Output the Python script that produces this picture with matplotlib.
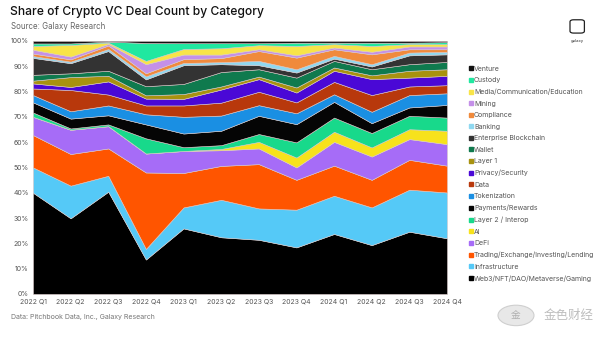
import matplotlib.pyplot as plt
from matplotlib.lines import Line2D
from matplotlib.patches import FancyBboxPatch, Circle

plt.rcParams['font.family'] = ['Inter', 'DejaVu Sans']

quarters = ['2022 Q1', '2022 Q2', '2022 Q3', '2022 Q4', '2023 Q1', '2023 Q2',
            '2023 Q3', '2023 Q4', '2024 Q1', '2024 Q2', '2024 Q3', '2024 Q4']

# shares in %, bottom of the stack first
web3 = [40.0, 29.9, 40.4, 13.6, 25.9, 22.4, 21.4, 18.4, 23.7, 19.3, 24.6, 22.0]
infra = [10.0, 12.9, 6.3, 4.2, 8.3, 14.8, 12.4, 14.9, 15.1, 14.9, 16.6, 18.1]
trading = [12.8, 12.5, 10.8, 30.2, 13.6, 13.4, 17.5, 11.8, 11.9, 10.9, 11.8, 10.6]
defi = [7.2, 9.6, 8.8, 7.5, 8.7, 6.2, 6.2, 4.9, 9.4, 9.2, 8.2, 8.5]
ai = [0.0, 0.0, 0.0, 0.0, 0.0, 0.5, 2.6, 3.9, 4.0, 3.6, 3.9, 5.3]
layer2 = [1.7, 0.5, 0.7, 6.0, 1.5, 1.5, 3.1, 6.0, 5.6, 5.7, 5.3, 5.2]
payments = [4.0, 3.9, 3.6, 5.5, 5.4, 5.7, 7.2, 7.2, 6.2, 3.9, 3.3, 5.0]
tokenization = [2.9, 2.9, 3.9, 4.0, 6.6, 6.0, 4.2, 4.3, 3.0, 4.5, 4.9, 4.6]
data = [2.6, 8.4, 4.3, 3.5, 4.5, 5.1, 5.3, 4.3, 4.9, 6.6, 3.4, 3.2]
privacy = [2.0, 1.2, 5.2, 2.7, 2.6, 5.2, 5.0, 3.9, 4.4, 6.3, 3.5, 3.7]
layer1 = [1.1, 3.9, 2.2, 1.3, 1.9, 1.2, 1.0, 2.0, 1.3, 1.5, 2.7, 2.6]
wallet = [2.3, 1.5, 2.0, 3.6, 4.0, 5.7, 2.9, 3.9, 2.6, 2.4, 2.6, 2.9]
enterprise = [6.7, 4.0, 7.8, 2.7, 7.4, 3.1, 1.6, 2.0, 0.9, 1.1, 3.5, 3.0]
banking = [0.7, 0.6, 0.8, 1.2, 0.9, 0.8, 1.7, 1.3, 1.1, 0.9, 1.1, 1.0]
compliance = [1.0, 0.9, 1.4, 1.2, 1.5, 1.6, 3.9, 4.6, 2.6, 3.9, 1.3, 1.0]
mining = [1.5, 1.1, 0.6, 3.6, 1.8, 1.4, 0.7, 0.9, 0.7, 1.0, 1.1, 1.1]
media = [1.5, 4.6, 0.5, 1.3, 2.2, 2.5, 1.6, 3.7, 1.3, 2.3, 0.9, 0.9]
custody = [1.0, 0.6, 0.4, 7.1, 2.3, 2.0, 0.8, 1.3, 0.6, 1.3, 0.6, 0.8]
venture = [1.0, 1.0, 0.3, 0.8, 0.9, 0.9, 0.9, 0.7, 0.7, 0.7, 0.7, 0.5]

labels = ['Web3/NFT/DAO/Metaverse/Gaming', 'Infrastructure',
          'Trading/Exchange/Investing/Lending', 'DeFi', 'AI', 'Layer 2 / Interop',
          'Payments/Rewards', 'Tokenization', 'Data', 'Privacy/Security', 'Layer 1',
          'Wallet', 'Enterprise Blockchain', 'Banking', 'Compliance', 'Mining',
          'Media/Communication/Education', 'Custody', 'Venture']
series = [web3, infra, trading, defi, ai, layer2, payments, tokenization, data,
          privacy, layer1, wallet, enterprise, banking, compliance, mining, media,
          custody, venture]
colors = ['#000000', '#55c9f7', '#ff5500', '#a66cf7', '#f7e21c', '#18d98b',
          '#050505', '#1a8fe3', '#b8380c', '#4a08d6', '#a8920f', '#0f7a4e',
          '#333333', '#8fd8f0', '#f08a3c', '#c490e8', '#f8e448', '#20e8a0',
          '#111111']

fig = plt.figure(figsize=(6, 3.41), dpi=100)
ax = fig.add_axes([0.055, 0.138, 0.69, 0.742])

x = list(range(len(quarters)))
ax.stackplot(x, series, colors=colors, labels=labels,
             edgecolor='#d8c8c8', linewidth=0.4)

ax.set_xlim(0, len(quarters) - 1)
ax.set_ylim(0, 100)
ax.set_xticks(x)
ax.set_xticklabels(quarters)
ax.set_yticks(range(0, 101, 10))
ax.set_yticklabels([f'{v}%' for v in range(0, 101, 10)])
ax.tick_params(length=0, labelsize=5, colors='#555555', pad=3)
for s in ax.spines.values():
    s.set_visible(False)

handles = [Line2D([], [], marker='s', linestyle='', color=c, markersize=2.5)
           for c in colors]
fig.legend(handles[::-1], labels[::-1], loc='upper left',
           bbox_to_anchor=(0.775, 0.815), frameon=False, fontsize=5,
           labelcolor='#555555', handletextpad=0.1, handlelength=0.8,
           labelspacing=0.79, borderaxespad=0)

fig.text(0.017, 0.982, 'Share of Crypto VC Deal Count by Category',
         fontsize=8.7, fontweight='medium', color='#111111', va='top')
fig.text(0.018, 0.935, 'Source: Galaxy Research', fontsize=5.7,
         color='#666666', va='top')
fig.text(0.018, 0.07, 'Data: Pitchbook Data, Inc., Galaxy Research',
         fontsize=5, color='#777777', va='center')

# galaxy logo, top right
fig.patches.append(FancyBboxPatch((0.952, 0.905), 0.02, 0.035,
                                  boxstyle='round,pad=0.002,rounding_size=0.006',
                                  transform=fig.transFigure, fill=False,
                                  edgecolor='#222222', linewidth=0.9))
fig.text(0.962, 0.885, 'galaxy', fontsize=3, color='#333333',
         ha='center', va='top')

# watermark, bottom right
fig.patches.append(Circle((0.86, 0.075), 0.03, transform=fig.transFigure,
                          facecolor='#e8e8e8', edgecolor='#cfcfcf', linewidth=0.8))
fig.text(0.86, 0.075, '金', fontsize=7, color='#b0b0b0', ha='center',
         va='center', family=['Noto Sans CJK SC', 'DejaVu Sans'])
fig.text(0.99, 0.075, '金色财经', fontsize=9, color='#bdbdbd', va='center',
         ha='right', family=['Noto Sans CJK SC', 'DejaVu Sans'])

fig.savefig('out.png', dpi=100, facecolor='white')
